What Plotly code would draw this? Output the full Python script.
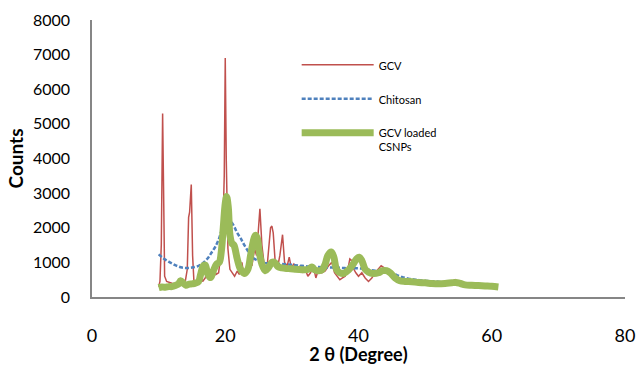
import plotly.graph_objects as go

# ---- data ----
gcv_x = [10.0, 10.2, 10.4, 10.6, 10.75, 10.9, 11.2, 11.6, 12.0, 12.5, 13.0, 13.5, 14.0, 14.3, 14.5, 14.65,
         14.9, 15.1, 15.3, 15.7, 16.0, 16.3, 16.6, 17.0, 17.4, 17.7, 18.0, 18.3, 18.6, 19.0, 19.3, 19.6,
         19.85, 20.0, 20.15, 20.4, 20.7, 21.0, 21.4, 21.8, 22.1, 22.5, 22.8, 23.2, 23.6, 24.0, 24.4, 24.7,
         25.0, 25.2, 25.5, 25.8, 26.2, 26.5, 26.8, 27.0, 27.2, 27.5, 27.9, 28.2, 28.6, 28.9, 29.3, 29.6,
         29.9, 30.3, 30.8, 31.2, 31.6, 32.0, 32.4, 32.8, 33.2, 33.6, 34.0, 34.5, 35.0, 35.5, 36.0, 36.4,
         36.8, 37.2, 37.6, 38.0, 38.4, 38.7, 39.0, 39.3, 39.6, 40.0, 40.5, 41.0, 41.5, 42.0, 42.5, 43.0,
         43.4, 43.8, 44.2, 44.6, 45.0, 45.5, 46.0, 47.0, 48.0, 49.0, 50.0, 51.0, 52.0, 53.0, 54.0, 54.5,
         55.0, 56.0, 57.0, 58.0, 59.0, 60.0]
gcv_y = [300, 450, 1500, 5300, 3000, 600, 450, 420, 400, 380, 400, 420, 450, 800, 2300, 2450,
         3250, 1200, 450, 350, 380, 600, 450, 550, 850, 600, 500, 900, 650, 700, 1100, 1600,
         3500, 6900, 4000, 1400, 800, 700, 600, 750, 650, 1000, 600, 750, 1200, 900, 1400, 1200,
         2000, 2550, 1500, 1000, 700, 1300, 2000, 2050, 1850, 1000, 900, 1200, 1800, 1000, 900, 1150,
         850, 950, 800, 900, 700, 800, 600, 700, 900, 550, 800, 700, 750, 900, 1000, 700,
         600, 500, 550, 600, 800, 1100, 1050, 800, 700, 600, 700, 550, 450, 550, 700, 800,
         900, 850, 700, 750, 600, 550, 500, 480, 450, 470, 420, 400, 420, 400, 450, 500,
         420, 380, 350, 340, 320, 300]

chitosan_x = [10.0, 10.5, 11.0, 11.5, 12.0, 12.5, 13.0, 13.5, 14.0, 14.5, 15.0, 15.5, 16.0, 16.5, 17.0,
              17.5, 18.0, 18.5, 19.0, 19.5, 20.0, 20.4, 20.8, 21.3, 21.8, 22.3, 22.8, 23.3, 23.8, 24.3,
              24.8, 25.5, 26.5, 27.5, 28.5, 29.5, 30.5, 31.5, 32.5, 33.5, 34.5, 35.5, 36.5, 37.5, 38.5,
              39.5, 40.5, 41.5, 42.5, 43.5, 44.5, 45.5, 46.5, 47.5, 48.5, 49.5, 50.5, 51.5, 52.5, 53.5,
              54.5, 55.5, 56.5, 57.5, 58.5, 59.5, 60.5]
chitosan_y = [1230, 1150, 1080, 1020, 970, 920, 880, 850, 840, 840, 850, 870, 900, 960, 1040,
              1150, 1300, 1450, 1650, 1950, 2200, 2300, 2200, 2050, 1850, 1700, 1520, 1360, 1200, 1110,
              1060, 1000, 970, 960, 950, 940, 920, 900, 880, 870, 860, 850, 850, 840, 830,
              830, 820, 790, 760, 740, 720, 650, 580, 530, 500, 480, 460, 450, 430, 420,
              410, 400, 380, 360, 340, 330, 320]

csnp_x = [10.0, 10.5, 11.0, 11.5, 12.0, 12.5, 13.0, 13.3, 13.7, 14.1, 14.6, 15.0, 15.5, 16.0, 16.3,
          16.7, 17.0, 17.4, 17.8, 18.2, 18.7, 19.1, 19.4, 19.7, 20.0, 20.2, 20.45, 20.7, 21.0, 21.3,
          21.8, 22.3, 22.9, 23.4, 23.8, 24.2, 24.5, 24.8, 25.1, 25.5, 26.0, 26.5, 27.0, 27.4, 27.9,
          28.5, 29.5, 30.5, 31.5, 32.5, 33.0, 33.4, 34.0, 34.5, 35.0, 35.4, 35.9, 36.3, 36.7, 37.2,
          37.8, 38.5, 39.2, 39.7, 40.1, 40.5, 41.0, 41.5, 42.2, 43.0, 43.6, 44.2, 44.8, 45.5, 46.2,
          47.0, 48.0, 49.0, 50.0, 51.0, 52.0, 53.0, 54.0, 54.6, 55.3, 56.0, 57.0, 58.0, 59.0, 60.0,
          61.0]
csnp_y = [270, 290, 280, 300, 300, 330, 380, 470, 400, 340, 370, 380, 400, 450, 650,
          900, 920, 650, 560, 750, 950, 1000, 1300, 2000, 2700, 2900, 2600, 1800, 1550, 1500,
          1100, 800, 680, 800, 1200, 1600, 1780, 1700, 1300, 950, 760, 850, 1000, 1000, 880,
          840, 820, 800, 790, 800, 870, 790, 760, 780, 950, 1200, 1300, 1150, 800, 700,
          680, 780, 950, 1100, 1150, 1050, 800, 720, 680, 700, 760, 760, 690, 550, 470,
          450, 440, 420, 410, 390, 380, 390, 410, 420, 390, 350, 340, 330, 320, 310,
          290]

x_ticks = [0, 20, 40, 60, 80]
y_ticks = [0, 1000, 2000, 3000, 4000, 5000, 6000, 7000, 8000]

FONT = "Lato"

fig = go.Figure()
fig.add_trace(go.Scatter(x=gcv_x, y=gcv_y, mode="lines", name="GCV", legendgroup="a",
                         line=dict(color="#C0504D", width=1.5)))
fig.add_trace(go.Scatter(x=chitosan_x, y=chitosan_y, mode="lines", name="Chitosan", legendgroup="b",
                         line=dict(color="#4F81BD", width=2.5, dash="4px,2px", shape="spline")))
fig.add_trace(go.Scatter(x=csnp_x, y=csnp_y, mode="lines", name="GCV loaded<br>CSNPs", legendgroup="c",
                         line=dict(color="#9BBB59", width=7, shape="spline")))

fig.update_layout(
    width=638, height=365,
    margin=dict(l=92, r=13, t=20, b=68, autoexpand=False),
    paper_bgcolor="white", plot_bgcolor="white",
    font=dict(family=FONT, color="#000000"),
    legend=dict(x=0.384, y=0.888, xanchor="left", yanchor="top", bgcolor="rgba(0,0,0,0)",
                font=dict(size=11, family=FONT), itemwidth=72, tracegroupgap=15, valign="top",
                traceorder="grouped"),
    xaxis=dict(range=[0, 80], tickvals=x_ticks, showgrid=False, zeroline=False, automargin=False,
               showline=True, linecolor="#868686", linewidth=1.5, ticks="",
               tickfont=dict(size=18, family=FONT), ticklabelstandoff=22,
               title=dict(text="<b>2 θ (Degree)</b>", font=dict(size=18, family=FONT), standoff=12)),
    yaxis=dict(range=[0, 8000], tickvals=y_ticks, showgrid=False, zeroline=False, automargin=False,
               showline=True, linecolor="#868686", linewidth=1.5, ticks="",
               tickfont=dict(size=16, family=FONT), ticklabelstandoff=17,
               title=dict(text="<b>Counts</b>", font=dict(size=19, family=FONT), standoff=4)),
)

# remove the browser's default 8px page margin so the 638x365 figure fills the window exactly
fig.write_html("out.html", config={"displayModeBar": False},
               post_script="document.body.style.margin='0';")
